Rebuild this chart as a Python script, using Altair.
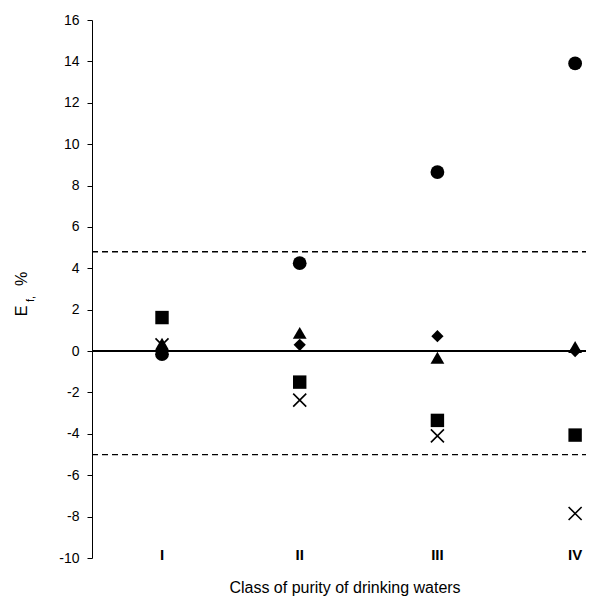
import altair as alt
import pandas as pd

classes = ["I", "II", "III", "IV"]
class_pos = [1, 2, 3, 4]
circle_vals = [-0.15, 4.25, 8.65, 13.9]
square_vals = [1.62, -1.5, -3.35, -4.06]
triangle_vals = [0.35, 0.88, -0.32, 0.2]
diamond_vals = [0.1, 0.3, 0.72, 0.0]
cross_vals = [0.3, -2.37, -4.1, -7.85]
limit_vals = [4.8, -5.0]

FONT = "Liberation Sans"
W, H = 494, 538
xs = alt.Scale(domain=[0.4916, 4.079], nice=False, zero=False)
ys = alt.Scale(domain=[-10, 16], nice=False, zero=False)

series = [
    ("cross", cross_vals, "M-1,-1L1,1M-1,1L1,-1", 170, False),
    ("square", square_vals, "square", 180, True),
    ("diamond", diamond_vals, "diamond", 150, True),
    ("circle", circle_vals, "circle", 190, True),
    ("triangle", triangle_vals, "triangle-up", 190, True),
]

rows = []
for name, vals, shape, size, filled in series:
    for c, p, v in zip(classes, class_pos, vals):
        rows.append({"series": name, "cls": c, "pos": p, "val": v})
df = pd.DataFrame(rows)

yaxis = alt.Axis(
    values=list(range(-10, 17, 2)), title=None, grid=False,
    domainColor="black", domainWidth=1, tickColor="black", tickSize=5,
    labelFont=FONT, labelFontSize=14, labelColor="black", labelPadding=8,
    labelExpr="datum.value + ''",
)

layers = []
zero_df = pd.DataFrame({"y": [0]})
layers.append(
    alt.Chart(zero_df).mark_rule(color="black", strokeWidth=2).encode(
        y=alt.Y("y:Q", scale=ys, axis=yaxis),
        x=alt.value(0), x2=alt.value(W + 20),
    )
)
lim_df = pd.DataFrame({"y": limit_vals})
layers.append(
    alt.Chart(lim_df).mark_rule(color="black", strokeWidth=1.3, strokeDash=[6, 4]).encode(
        y=alt.Y("y:Q", scale=ys), x=alt.value(0), x2=alt.value(W + 20),
    )
)

for name, vals, shape, size, filled in series:
    sub = df[df.series == name]
    if filled:
        m = alt.Chart(sub).mark_point(shape=shape, size=size, filled=True, color="black", opacity=1)
    else:
        m = alt.Chart(sub).mark_point(shape=shape, size=size, filled=False, color="black",
                                      strokeWidth=1.6, opacity=1)
    layers.append(m.encode(
        x=alt.X("pos:Q", scale=xs, axis=None),
        y=alt.Y("val:Q", scale=ys),
    ))

lab_df = pd.DataFrame({"cls": classes, "pos": class_pos})
layers.append(
    alt.Chart(lab_df).mark_text(font=FONT, fontSize=15, fontWeight="bold", color="black",
                                baseline="middle", align="center").encode(
        x=alt.X("pos:Q", scale=xs), y=alt.value(H - 3), text="cls:N",
    )
)

layers.append(
    alt.Chart(pd.DataFrame({"t": ["Class of purity of drinking waters"]})).mark_text(
        font=FONT, fontSize=16, color="black", baseline="middle", align="center"
    ).encode(x=alt.value(253), y=alt.value(568), text="t:N")
)

ttl = pd.DataFrame({"t": ["E", "f,", "%"], "x": [-70, -61, -70], "y": [291, 279, 259], "fs": [16, 11, 16]})
for i in range(3):
    r = ttl.iloc[[i]]
    layers.append(
        alt.Chart(r).mark_text(font=FONT, fontSize=float(r.fs.iloc[0]), color="black", angle=270,
                               baseline="middle", align="center").encode(
            x=alt.value(float(r.x.iloc[0])), y=alt.value(float(r.y.iloc[0])), text="t:N")
    )

chart = alt.layer(*layers).properties(
    width=W, height=H,
    autosize=alt.AutoSizeParams(type="none"),
    padding={"left": 84, "top": 12, "right": 0, "bottom": 38},
).configure_view(stroke=None).configure_axis(grid=False)

chart.save("out.html", embed_options={"renderer": "svg", "actions": False})
